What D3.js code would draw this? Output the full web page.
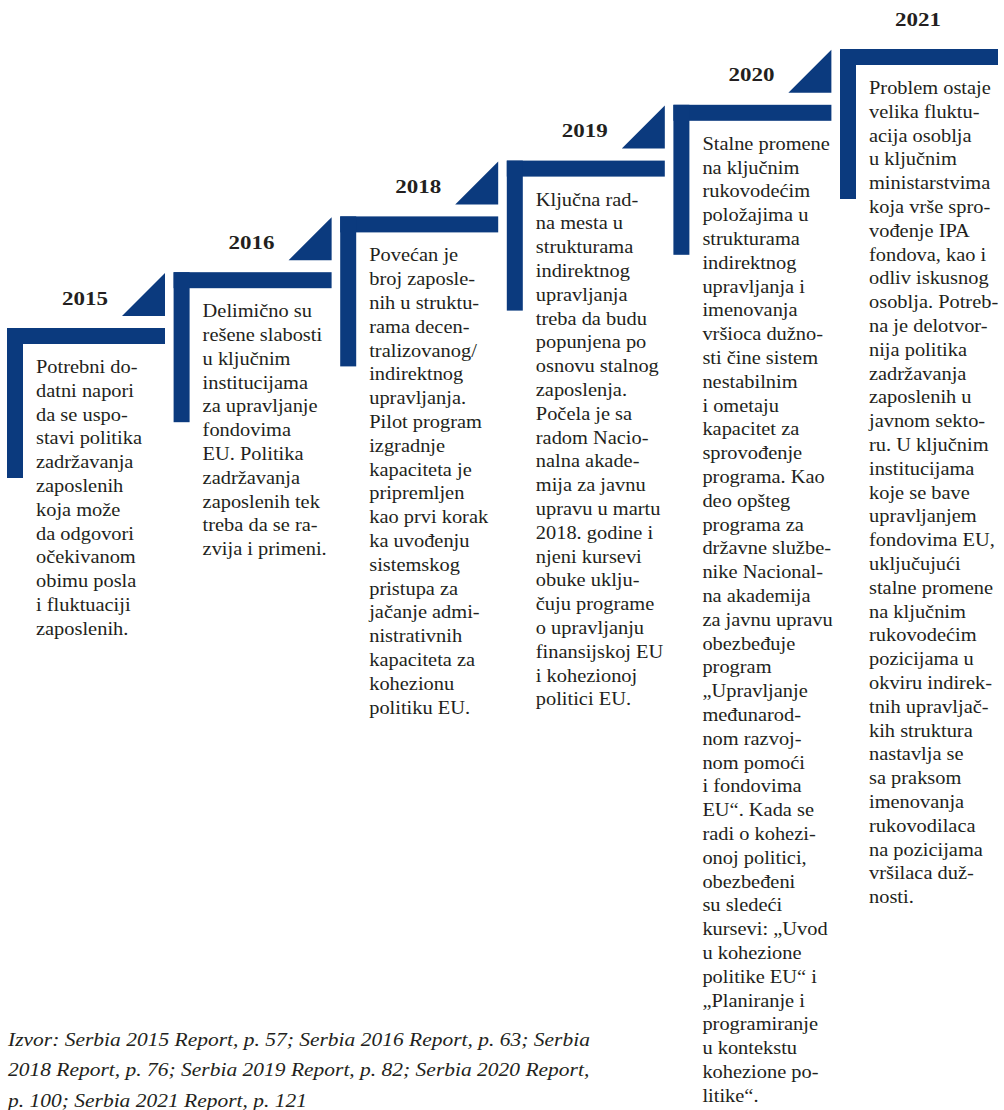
<!DOCTYPE html>
<html>
<head>
<meta charset="utf-8">
<script src="https://cdn.jsdelivr.net/npm/d3@7"></script>
<style>
  html, body { margin: 0; padding: 0; background: #ffffff; }
  svg { display: block; }
</style>
</head>
<body>
<svg id="chart" width="1004" height="1110"></svg>
<script>
// ---- data ----
const years = ["2015", "2016", "2018", "2019", "2020", "2021"];

const text2015 = ["Potrebni do-", "datni napori", "da se uspo-", "stavi politika", "zadržavanja", "zaposlenih", "koja može", "da odgovori", "očekivanom", "obimu posla", "i fluktuaciji", "zaposlenih."];
const text2016 = ["Delimično su", "rešene slabosti", "u ključnim", "institucijama", "za upravljanje", "fondovima", "EU. Politika", "zadržavanja", "zaposlenih tek", "treba da se ra-", "zvija i primeni."];
const text2018 = ["Povećan je", "broj zaposle-", "nih u struktu-", "rama decen-", "tralizovanog/", "indirektnog", "upravljanja.", "Pilot program", "izgradnje", "kapaciteta je", "pripremljen", "kao prvi korak", "ka uvođenju", "sistemskog", "pristupa za", "jačanje admi-", "nistrativnih", "kapaciteta za", "kohezionu", "politiku EU."];
const text2019 = ["Ključna rad-", "na mesta u", "strukturama", "indirektnog", "upravljanja", "treba da budu", "popunjena po", "osnovu stalnog", "zaposlenja.", "Počela je sa", "radom Nacio-", "nalna akade-", "mija za javnu", "upravu u martu", "2018. godine i", "njeni kursevi", "obuke uklju-", "čuju programe", "o upravljanju", "finansijskoj EU", "i kohezionoj", "politici EU."];
const text2020 = ["Stalne promene", "na ključnim", "rukovodećim", "položajima u", "strukturama", "indirektnog", "upravljanja i", "imenovanja", "vršioca dužno-", "sti čine sistem", "nestabilnim", "i ometaju", "kapacitet za", "sprovođenje", "programa. Kao", "deo opšteg", "programa za", "državne službe-", "nike Nacional-", "na akademija", "za javnu upravu", "obezbeđuje", "program", "„Upravljanje", "međunarod-", "nom razvoj-", "nom pomoći", "i fondovima", "EU“. Kada se", "radi o kohezi-", "onoj politici,", "obezbeđeni", "su sledeći", "kursevi: „Uvod", "u kohezione", "politike EU“ i", "„Planiranje i", "programiranje", "u kontekstu", "kohezione po-", "litike“."];
const text2021 = ["Problem ostaje", "velika fluktu-", "acija osoblja", "u ključnim", "ministarstvima", "koja vrše spro-", "vođenje IPA", "fondova, kao i", "odliv iskusnog", "osoblja. Potreb-", "na je delotvor-", "nija politika", "zadržavanja", "zaposlenih u", "javnom sekto-", "ru. U ključnim", "institucijama", "koje se bave", "upravljanjem", "fondovima EU,", "uključujući", "stalne promene", "na ključnim", "rukovodećim", "pozicijama u", "okviru indirek-", "tnih upravljač-", "kih struktura", "nastavlja se", "sa praksom", "imenovanja", "rukovodilaca", "na pozicijama", "vršilaca duž-", "nosti."];

const texts = [text2015, text2016, text2018, text2019, text2020, text2021];

const sourceLines = [
  "Izvor: Serbia 2015 Report, p. 57; Serbia 2016 Report, p. 63; Serbia",
  "2018 Report, p. 76; Serbia 2019 Report, p. 82; Serbia 2020 Report,",
  "p. 100; Serbia 2021 Report, p. 121"
];

// ---- styling ----
const BLUE = "#0b3a7e";
const INK = "#231f20";
const SERIF = "'Liberation Serif', 'Times New Roman', serif";

const svg = d3.select("#chart");

const steps = d3.range(years.length);
const x = d3.scaleLinear().domain([0, years.length - 1]).range([7, 840]);
const y = d3.scaleLinear().domain([0, years.length - 1]).range([328, 49]);

const barLen = 158, barThick = 16, vertLen = 150, tri = 43, triGap = 12;
const lineH = 23.8;

// measure helper for horizontal scaling to mimic the wider original face
function measure(str, size, weight, style) {
  const t = svg.append("text").attr("font-family", SERIF).attr("font-size", size)
    .attr("font-weight", weight || "normal").attr("font-style", style || "normal").text(str);
  const w = t.node().getComputedTextLength();
  t.remove();
  return w;
}
const bodySize = 18.5;
const bodySX = 101.5 / measure("Potrebni do-", bodySize);
const yearSize = 19.5;
const yearSX = 46 / measure("2015", yearSize, "bold");
const srcSize = 19.5;
const srcSX = 582 / measure(sourceLines[0], srcSize, "normal", "italic");

const g = svg.selectAll("g.step").data(steps).join("g").attr("class", "step");

// horizontal bar
g.append("rect")
  .attr("x", i => x(i)).attr("y", i => y(i))
  .attr("width", barLen).attr("height", barThick).attr("fill", BLUE);
// vertical bar
g.append("rect")
  .attr("x", i => x(i)).attr("y", i => y(i))
  .attr("width", barThick).attr("height", vertLen).attr("fill", BLUE);
// triangle (not on last step)
g.filter(i => i < years.length - 1).append("path")
  .attr("d", i => {
    const r = x(i) + barLen, b = y(i) - triGap;
    return `M${r},${b - tri}L${r},${b}L${r - tri},${b}Z`;
  })
  .attr("fill", BLUE);
// year label
g.append("text")
  .attr("transform", i => `translate(${x(i) + 78},${y(i) - 23.5}) scale(${yearSX},1)`)
  .attr("text-anchor", "middle")
  .attr("font-family", SERIF).attr("font-weight", "bold").attr("font-size", yearSize)
  .attr("fill", INK)
  .text(i => years[i]);
// body text
g.append("text")
  .attr("transform", i => `translate(${x(i) + 29},${y(i) + 45}) scale(${bodySX},1)`)
  .attr("font-family", SERIF).attr("font-size", bodySize).attr("fill", INK)
  .selectAll("tspan").data(i => texts[i]).join("tspan")
  .attr("x", 0).attr("y", (d, k) => k * lineH)
  .text(d => d);

// source note
svg.append("text")
  .attr("transform", `translate(8,1046) scale(${srcSX},1)`)
  .attr("font-family", SERIF).attr("font-style", "italic").attr("font-size", srcSize)
  .attr("fill", INK)
  .selectAll("tspan").data(sourceLines).join("tspan")
  .attr("x", 0).attr("y", (d, k) => k * 30.5)
  .text(d => d);
</script>
</body>
</html>
